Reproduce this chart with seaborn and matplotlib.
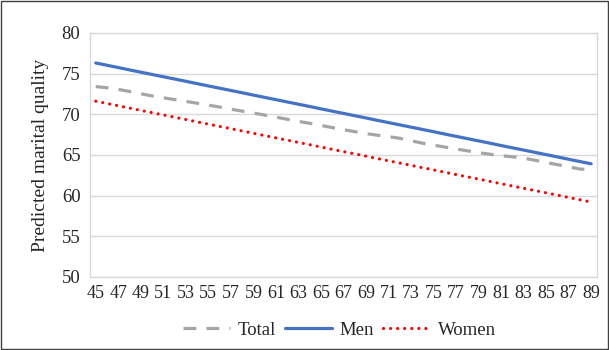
# Predicted marital quality by age, for total / men / women
import pandas as pd
import matplotlib.pyplot as plt
import seaborn as sns

ages = list(range(45, 90))

total = [73.40, 73.25, 73.05, 72.80, 72.52, 72.25, 72.02, 71.80, 71.58, 71.35,
         71.12, 70.88, 70.62, 70.38, 70.14, 69.90, 69.64, 69.38, 69.12, 68.88,
         68.62, 68.36, 68.10, 67.86, 67.62, 67.42, 67.24, 67.04, 66.74, 66.44,
         66.20, 65.96, 65.72, 65.50, 65.28, 65.08, 64.90, 64.76, 64.60, 64.34,
         64.06, 63.80, 63.52, 63.26, 63.18]
men = [76.30, 76.02, 75.74, 75.45, 75.17, 74.89, 74.61, 74.33, 74.05, 73.76,
       73.48, 73.20, 72.92, 72.64, 72.35, 72.07, 71.79, 71.51, 71.23, 70.95,
       70.66, 70.38, 70.10, 69.82, 69.54, 69.25, 68.97, 68.69, 68.41, 68.13,
       67.85, 67.56, 67.28, 67.00, 66.72, 66.44, 66.15, 65.87, 65.59, 65.31,
       65.03, 64.75, 64.46, 64.18, 63.90]
women = [71.60, 71.32, 71.04, 70.75, 70.47, 70.19, 69.91, 69.63, 69.35, 69.06,
         68.78, 68.50, 68.22, 67.94, 67.65, 67.37, 67.09, 66.81, 66.53, 66.25,
         65.96, 65.68, 65.40, 65.12, 64.84, 64.55, 64.27, 63.99, 63.71, 63.43,
         63.15, 62.86, 62.58, 62.30, 62.02, 61.74, 61.45, 61.17, 60.89, 60.61,
         60.33, 60.05, 59.76, 59.48, 59.20]

series = ['Total', 'Men', 'Women']
colors = {'Total': '#a5a5a5', 'Men': '#4472c4', 'Women': '#ff0000'}
dash_total = (0, (4, 3.2))
dot_women = (0, (0.01, 2.2))

df = pd.DataFrame({'Age': ages, 'Total': total, 'Men': men, 'Women': women})
df_long = df.melt(id_vars='Age', var_name='Group', value_name='Quality')

sns.set_style('white')
plt.rcParams['font.family'] = ['Liberation Serif', 'DejaVu Serif']

fig = plt.figure(figsize=(6.09, 3.5), dpi=100)
ax = fig.add_axes([0.148, 0.209, 0.832, 0.697])

sns.lineplot(data=df_long, x='Age', y='Quality', hue='Group', hue_order=series,
             palette=colors, linewidth=2.3, ax=ax, legend=False)

# estilos de línea a mano (discontinua, continua, punteada)
lines = ax.get_lines()
lines[0].set_linestyle(dash_total)
lines[1].set_linestyle('-')
lines[2].set_linestyle(dot_women)
lines[2].set_dash_capstyle('round')

ax.set_xlim(44.5, 89.5)
ax.set_ylim(50, 80)
ax.set_xticks(ages[::2])
ax.set_yticks(range(50, 81, 5))
ax.tick_params(axis='x', labelsize=13, length=0, pad=6)
ax.tick_params(axis='y', labelsize=13.5, length=0, pad=7)
ax.yaxis.grid(True, color='#d9d9d9', linewidth=1)
ax.set_xlabel('')
ax.set_ylabel('Predicted marital quality', fontsize=14, labelpad=9)
for s in ax.spines.values():
    s.set_color('#d9d9d9')
    s.set_linewidth(1)

handles = [plt.Line2D([], [], color=colors['Total'], linewidth=2.3, linestyle=dash_total),
           plt.Line2D([], [], color=colors['Men'], linewidth=2.3),
           plt.Line2D([], [], color=colors['Women'], linewidth=2.3, linestyle=dot_women,
                      dash_capstyle='round')]
fig.legend(handles, series, loc='center', bbox_to_anchor=(0.557, 0.057), ncol=3, frameon=False,
           fontsize=13.5, handlelength=2.5, handletextpad=0.4, columnspacing=0.5)

# borde exterior del gráfico
fig.patches.append(plt.Rectangle((0.001, 0.002), 0.997, 0.996, transform=fig.transFigure,
                                 fill=False, edgecolor='#404040', linewidth=1))

plt.savefig('out.png', dpi=100)
